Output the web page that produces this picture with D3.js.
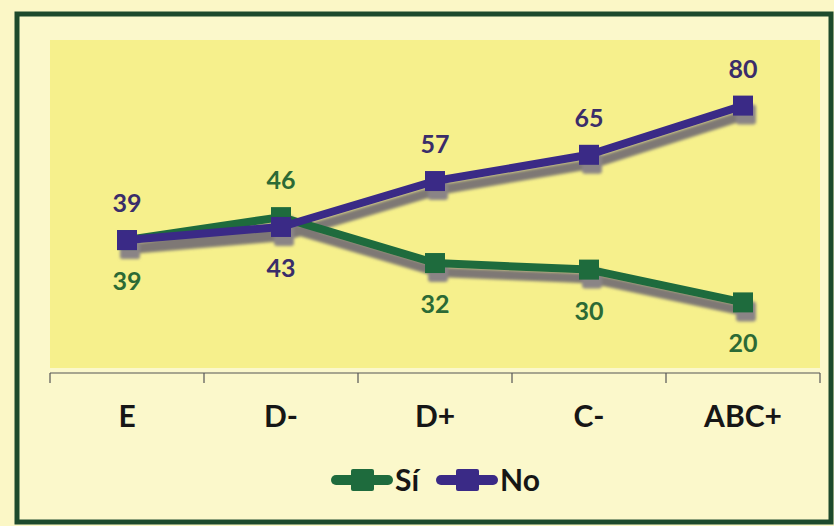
<!DOCTYPE html>
<html><head><meta charset="utf-8">
<script src="https://cdn.jsdelivr.net/npm/d3@7"></script>
<style>body{margin:0;background:#fbf7c6;}svg{display:block;}</style>
</head><body>
<script>
const categories = ["E", "D-", "D+", "C-", "ABC+"];
const siValues = [39, 46, 32, 30, 20];
const noValues = [39, 43, 57, 65, 80];
const seriesNames = ["Sí", "No"];
const siLabelPos = ["below", "above", "below", "below", "below"];
const noLabelPos = ["above", "below", "above", "above", "above"];

const W = 834, H = 526;
const FONT = "Lato, 'Open Sans', sans-serif";
const svg = d3.select("body").append("svg").attr("width", W).attr("height", H);
const defs = svg.append("defs");
const f = defs.append("filter").attr("id", "blur").attr("x", "-10%").attr("y", "-10%").attr("width", "120%").attr("height", "120%");
f.append("feGaussianBlur").attr("stdDeviation", 1.5);

svg.append("rect").attr("width", W).attr("height", H).attr("fill", "#fbf7c6");
svg.append("rect").attr("x", 17).attr("y", 14).attr("width", 814).attr("height", 508)
  .attr("fill", "#fbf8cb").attr("stroke", "#1d4a2c").attr("stroke-width", 5);

const plot = {left: 50, right: 820, top: 40, bottom: 368};
svg.append("rect").attr("x", plot.left).attr("y", plot.top)
  .attr("width", plot.right - plot.left).attr("height", plot.bottom - plot.top).attr("fill", "#f6f08c");

const x = d3.scaleBand().domain(categories).range([plot.left, plot.right]);
const y = d3.scaleLinear().domain([0, 100]).range([plot.bottom, plot.top]);
const cx = c => x(c) + x.bandwidth() / 2;

// axis
const axis = d3.axisBottom(x).tickSize(0).tickPadding(33);
const ag = svg.append("g").attr("transform", `translate(0,${plot.bottom + 5})`).call(axis);
ag.select(".domain").attr("stroke", "#555").attr("stroke-width", 1.2).attr("d", `M${plot.left},0H${plot.right}`);
ag.selectAll(".tick text").attr("font-family", FONT).attr("font-weight", "bold")
  .attr("font-size", 30).attr("fill", "#161616");
const bounds = categories.map(c => x(c)).concat([x(categories[categories.length-1]) + x.bandwidth()]);
ag.selectAll("line.bt").data(bounds).enter().append("line").attr("class", "bt")
  .attr("x1", d => d).attr("x2", d => d).attr("y1", 0).attr("y2", 10).attr("stroke", "#555").attr("stroke-width", 1.2);

const series = [
  {name: seriesNames[0], values: siValues, color: "#1e6b3d", text: "#2c6a35", pos: siLabelPos},
  {name: seriesNames[1], values: noValues, color: "#3a2a86", text: "#3a2d6a", pos: noLabelPos}
];
const line = d3.line().x((d, i) => cx(categories[i])).y(d => y(d));

// shadows
const sh = svg.append("g").attr("transform", "translate(3,9)").attr("filter", "url(#blur)");
series.forEach(s => {
  sh.append("path").datum(s.values).attr("d", line).attr("fill", "none").attr("stroke", "#7e7874")
    .attr("stroke-width", 10).attr("stroke-linejoin", "round");
  sh.selectAll(null).data(s.values).enter().append("rect")
    .attr("x", (d, i) => cx(categories[i]) - 10).attr("y", d => y(d) - 10).attr("width", 20).attr("height", 20)
    .attr("rx", 3).attr("fill", "#8a8486");
});
// lines and markers
series.forEach(s => {
  const g = svg.append("g");
  g.append("path").datum(s.values).attr("d", line).attr("fill", "none").attr("stroke", s.color)
    .attr("stroke-width", 8).attr("stroke-linejoin", "round");
  g.selectAll("rect").data(s.values).enter().append("rect")
    .attr("x", (d, i) => cx(categories[i]) - 10).attr("y", d => y(d) - 10).attr("width", 20).attr("height", 20)
    .attr("fill", s.color);
});
// labels
series.forEach(s => {
  svg.append("g").selectAll("text").data(s.values).enter().append("text")
    .attr("x", (d, i) => cx(categories[i]))
    .attr("y", (d, i) => s.pos[i] === "above" ? y(d) - 28 : y(d) + 50)
    .attr("text-anchor", "middle")
    .attr("font-family", FONT).attr("font-weight", "bold").attr("font-size", 25)
    .attr("fill", s.text).text(d => d);
});

// legend
const lg = svg.append("g").attr("transform", "translate(332,480)");
let lx = 0;
series.forEach(s => {
  const g = lg.append("g").attr("transform", `translate(${lx},0)`);
  g.append("line").attr("x1", 4).attr("x2", 56).attr("y1", 0).attr("y2", 0).attr("stroke", s.color)
    .attr("stroke-width", 10).attr("stroke-linecap", "round");
  g.append("rect").attr("x", 19).attr("y", -11).attr("width", 23).attr("height", 22).attr("rx", 2).attr("fill", s.color);
  g.append("text").attr("x", 63).attr("y", 11).attr("font-family", FONT)
    .attr("font-weight", "bold").attr("font-size", 30).attr("fill", "#161616").text(s.name);
  lx += 105;
});
</script>
</body></html>
